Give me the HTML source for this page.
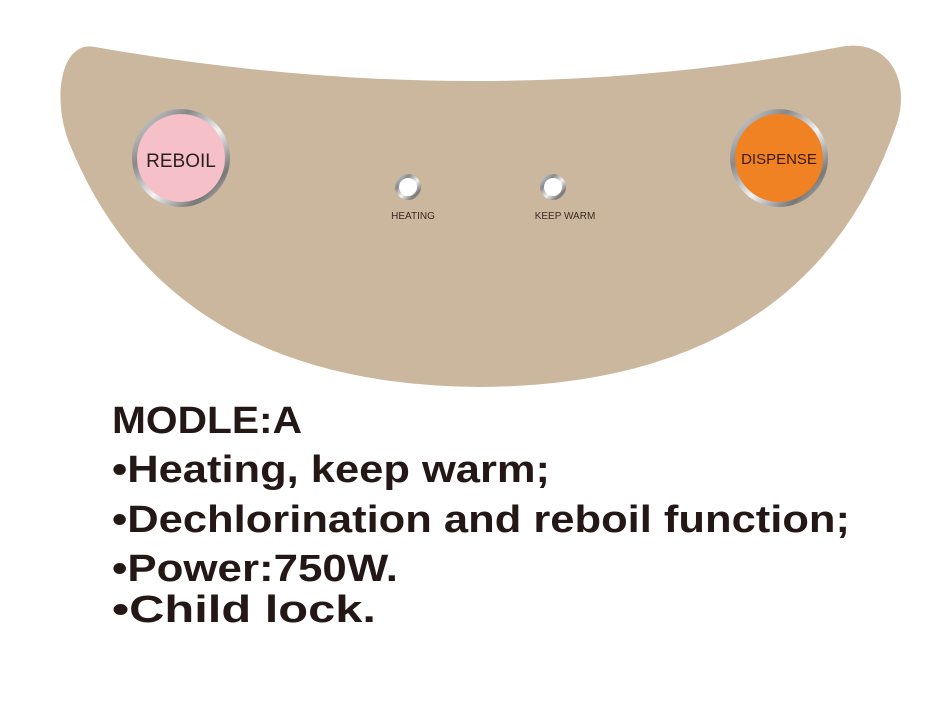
<!DOCTYPE html>
<html><head><style>
html,body{margin:0;padding:0;background:#fff;width:952px;height:725px;overflow:hidden}
</style></head><body>
<svg width="952" height="725" viewBox="0 0 952 725" xmlns="http://www.w3.org/2000/svg">
<defs>
<linearGradient id="ring" x1="0" y1="0" x2="1" y2="1">
<stop offset="0" stop-color="#e8e8e8"/><stop offset="0.3" stop-color="#888"/><stop offset="0.55" stop-color="#f4f4f4"/><stop offset="0.8" stop-color="#777"/><stop offset="1" stop-color="#ddd"/>
</linearGradient>
</defs>
<path d="M95 47 Q480 115 840 47 C885 38 910 75 898 120 Q810 385 480 387 Q165 385 68 140 C52 95 62 40 95 47 Z" fill="#cbb79d"/>
<circle cx="181" cy="158" r="49" fill="url(#ring)"/>
<circle cx="181" cy="158" r="44" fill="#f5c0c8"/>
<text x="181" y="167" font-family="Liberation Sans, sans-serif" font-size="19" text-anchor="middle" fill="#2a1f1a">REBOIL</text>
<circle cx="779" cy="158" r="49" fill="url(#ring)"/>
<circle cx="779" cy="158" r="44" fill="#f08223"/>
<text x="779" y="164" font-family="Liberation Sans, sans-serif" font-size="15" text-anchor="middle" fill="#3a1a0a">DISPENSE</text>
<circle cx="408" cy="187" r="13" fill="url(#ring)"/>
<circle cx="408" cy="187" r="9" fill="#fff"/>
<circle cx="553" cy="187" r="13" fill="url(#ring)"/>
<circle cx="553" cy="187" r="9" fill="#fff"/>
<text x="413" y="219" font-family="Liberation Sans, sans-serif" font-size="10" text-anchor="middle" fill="#3a2a20">HEATING</text>
<text x="565" y="219" font-family="Liberation Sans, sans-serif" font-size="10" text-anchor="middle" fill="#3a2a20">KEEP WARM</text>
<g font-family="Liberation Sans, sans-serif" font-weight="bold" fill="#231815" font-size="38">
<text x="112" y="433" textLength="190" lengthAdjust="spacingAndGlyphs">MODLE:A</text>
<text x="112" y="482" textLength="438" lengthAdjust="spacingAndGlyphs">•Heating, keep warm;</text>
<text x="112" y="532" textLength="738" lengthAdjust="spacingAndGlyphs">•Dechlorination and reboil function;</text>
<text x="112" y="581" textLength="286" lengthAdjust="spacingAndGlyphs">•Power:750W.</text>
<text x="112" y="622" textLength="264" lengthAdjust="spacingAndGlyphs">•Child  lock.</text>
</g>
</svg>
</body></html>
